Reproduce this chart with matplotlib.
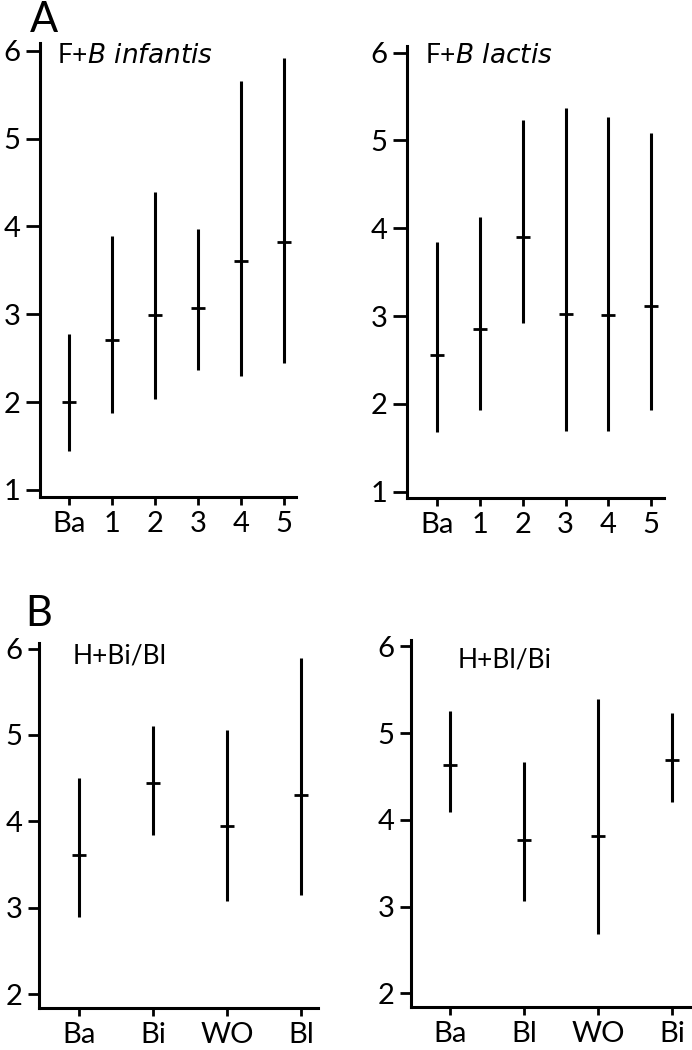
import matplotlib
matplotlib.use("Agg")
import matplotlib.pyplot as plt

plt.rcParams['font.family'] = ['Lato', 'DejaVu Sans']

# panel A: time points
a_labels = ["Ba", "1", "2", "3", "4", "5"]
inf_med = [2.00, 2.71, 2.99, 3.07, 3.61, 3.82]
inf_low = [1.44, 1.88, 2.03, 2.37, 2.30, 2.45]
inf_high = [2.78, 3.89, 4.39, 3.97, 5.66, 5.92]

lac_med = [2.56, 2.85, 3.90, 3.02, 3.01, 3.12]
lac_low = [1.68, 1.93, 2.92, 1.69, 1.69, 1.93]
lac_high = [3.84, 4.13, 5.23, 5.37, 5.27, 5.09]

# panel B: crossover groups
bibl_labels = ["Ba", "Bi", "WO", "Bl"]
bibl_med = [3.61, 4.44, 3.94, 4.31]
bibl_low = [2.89, 3.84, 3.08, 3.15]
bibl_high = [4.50, 5.10, 5.06, 5.89]

blbi_labels = ["Ba", "Bl", "WO", "Bi"]
blbi_med = [4.63, 3.77, 3.81, 4.69]
blbi_low = [4.09, 3.07, 2.69, 4.21]
blbi_high = [5.26, 4.67, 5.39, 5.23]


def draw(ax, labels, med, low, high, title, tx, ty, ylim, xlim, yticks, ylen):
    x = list(range(len(labels)))
    ax.vlines(x, low, high, color="black", linewidth=2.2)
    ax.plot(x, med, linestyle="none", marker="_", markersize=10,
            markeredgewidth=2.0, color="black")
    ax.set_xlim(*xlim)
    ax.set_ylim(*ylim)
    ax.set_xticks(x)
    ax.set_xticklabels(labels)
    ax.set_yticks(yticks)
    ax.spines["top"].set_visible(False)
    ax.spines["right"].set_visible(False)
    ax.spines["left"].set_linewidth(2.2)
    ax.spines["bottom"].set_linewidth(2.2)
    ax.tick_params(axis="both", labelsize=21, width=2.0)
    ax.tick_params(axis="x", length=6, pad=4)
    ax.tick_params(axis="y", length=ylen, pad=4)
    ax.text(tx, ty, title, transform=ax.transAxes, fontsize=19,
            va="baseline", ha="left")


fig = plt.figure(figsize=(6.92, 10.5), dpi=100)

ax1 = fig.add_axes([0.0578, 0.5267, 0.370, 0.4324])
draw(ax1, a_labels, inf_med, inf_low, inf_high, "F+$\\it{B\\ infantis}$",
     0.066, 0.956, (0.92, 6.09), (-0.67, 5.28), [1, 2, 3, 4, 5, 6], 10)

ax2 = fig.add_axes([0.5882, 0.5254, 0.3714, 0.4308])
draw(ax2, a_labels, lac_med, lac_low, lac_high, "F+$\\it{B\\ lactis}$",
     0.070, 0.962, (0.925, 6.076), (-0.70, 5.30), [1, 2, 3, 4, 5, 6], 10)

ax3 = fig.add_axes([0.0568, 0.0397, 0.403, 0.3476])
draw(ax3, bibl_labels, bibl_med, bibl_low, bibl_high, "H+Bi/Bl",
     0.121, 0.946, (1.835, 6.06), (-0.54, 3.23), [2, 3, 4, 5, 6], 8)

ax4 = fig.add_axes([0.594, 0.0412, 0.406, 0.349])
draw(ax4, blbi_labels, blbi_med, blbi_low, blbi_high, "H+Bl/Bi",
     0.167, 0.926, (1.846, 6.07), (-0.53, 3.27), [2, 3, 4, 5, 6], 8)

fig.text(0.043, 0.9695, "A", fontsize=30, va="baseline", ha="left")
fig.text(0.036, 0.404, "B", fontsize=30, va="baseline", ha="left")

fig.savefig("out.png", dpi=100)
